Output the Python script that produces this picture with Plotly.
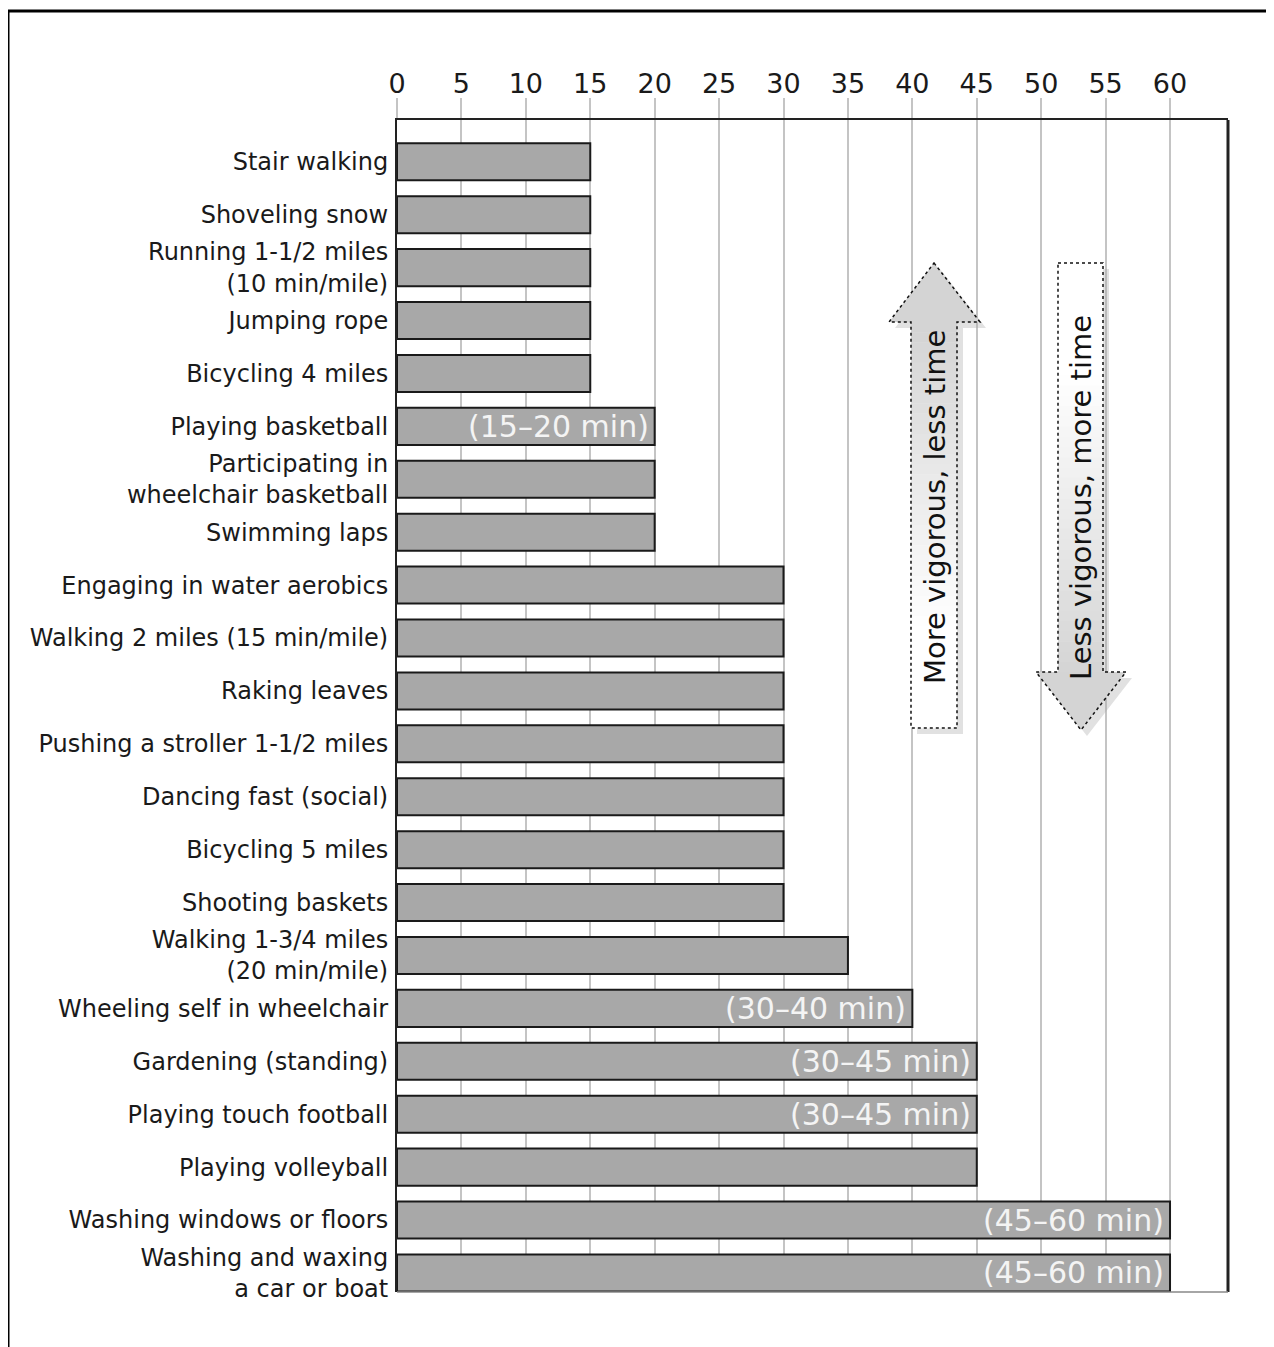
import plotly.graph_objects as go

activities = [
    "Stair walking", "Shoveling snow", "Running 1-1/2 miles<br>(10 min/mile)",
    "Jumping rope", "Bicycling 4 miles", "Playing basketball",
    "Participating in<br>wheelchair basketball", "Swimming laps",
    "Engaging in water aerobics", "Walking 2 miles (15 min/mile)", "Raking leaves",
    "Pushing a stroller 1-1/2 miles", "Dancing fast (social)", "Bicycling 5 miles",
    "Shooting baskets", "Walking 1-3/4 miles<br>(20 min/mile)",
    "Wheeling self in wheelchair", "Gardening (standing)", "Playing touch football",
    "Playing volleyball", "Washing windows or floors",
    "Washing and waxing<br>a car or boat",
]
minutes = [15, 15, 15, 15, 15, 20, 20, 20, 30, 30, 30, 30, 30, 30, 30, 35, 40, 45, 45, 45, 60, 60]
range_labels = ["", "", "", "", "", "(15–20 min)", "", "", "", "", "", "", "", "", "",
                "", "(30–40 min)", "(30–45 min)", "(30–45 min)", "", "(45–60 min)", "(45–60 min)"]
x_ticks = [0, 5, 10, 15, 20, 25, 30, 35, 40, 45, 50, 55, 60]
arrow_up_text = "More vigorous, less time"
arrow_down_text = "Less vigorous, more time"

FONT = "DejaVu Sans"
WIDTH, HEIGHT = 1274, 1347
OFF = 8  # page body margin
# plot area in screen pixels
L, R, T, B = 397, 1228, 120, 1292
PW, PH = R - L, B - T


def X(p):
    return (p - L) / PW


def Y(p):
    return (B - p) / PH


def path(points):
    return "M " + " L ".join(f"{X(a):.5f},{Y(b):.5f}" for a, b in points) + " Z"


fig = go.Figure()
fig.add_trace(go.Bar(
    y=activities, x=minutes, orientation="h", width=0.7,
    marker=dict(color="#a8a8a8", line=dict(color="#1a1a1a", width=2)),
    hoverinfo="x+y",
))

annotations = []
for act, m, lab in zip(activities, minutes, range_labels):
    if lab:
        annotations.append(dict(
            x=m, y=act, xref="x", yref="y", text=lab, showarrow=False,
            xanchor="right", xshift=-4, yshift=0,
            font=dict(family=FONT, size=30, color="#f4f4f4"),
        ))

shapes = []
# outer frame (top and left)
shapes.append(dict(type="line", xref="paper", yref="paper", x0=X(8), x1=X(1290), y0=Y(11), y1=Y(11),
                   line=dict(color="#000", width=3)))
shapes.append(dict(type="line", xref="paper", yref="paper", x0=X(8), x1=X(8), y0=Y(11), y1=Y(1360),
                   line=dict(color="#000", width=3)))
# right and bottom plot borders
shapes.append(dict(type="line", xref="paper", yref="paper", x0=1, x1=1, y0=0, y1=1,
                   line=dict(color="#222", width=3), layer="above"))
shapes.append(dict(type="line", xref="paper", yref="paper", x0=0, x1=1, y0=0, y1=0,
                   line=dict(color="#888", width=1.5), layer="above"))


def lerp_color(c1, c2, t):
    return "rgb({},{},{})".format(*[int(round(a + (b - a) * t)) for a, b in zip(c1, c2)])


GRAY = (212, 212, 212)
WHITE = (255, 255, 255)

up_pts = [(934, 263), (980, 322), (957, 322), (957, 728), (911, 728), (911, 322), (889, 322)]
down_pts = [(1058, 263), (1103, 263), (1103, 672), (1126, 672), (1081, 730), (1036, 672), (1058, 672)]

for pts in (up_pts, down_pts):
    shp = [(a + 6, b + 6) for a, b in pts]
    shapes.append(dict(type="path", xref="paper", yref="paper", path=path(shp),
                       fillcolor="rgba(170,170,170,0.35)", line=dict(width=0), layer="above"))

# up arrow
shapes.append(dict(type="path", xref="paper", yref="paper", path=path(up_pts),
                   fillcolor="white", line=dict(width=0), layer="above"))
shapes.append(dict(type="path", xref="paper", yref="paper",
                   path=path([(934, 263), (980, 322), (889, 322)]),
                   fillcolor=lerp_color(GRAY, GRAY, 0), line=dict(width=0), layer="above"))
N = 40
for i in range(N):
    y0 = 322 + (728 - 322) * i / N
    y1 = 322 + (728 - 322) * (i + 1) / N
    t = min(1.0, i / (N * 0.75))
    shapes.append(dict(type="rect", xref="paper", yref="paper", x0=X(911), x1=X(957), y0=Y(y0), y1=Y(y1 + 0.5),
                       fillcolor=lerp_color(GRAY, WHITE, t), line=dict(width=0), layer="above"))
shapes.append(dict(type="path", xref="paper", yref="paper", path=path(up_pts),
                   fillcolor="rgba(0,0,0,0)", line=dict(color="#111", width=1.5, dash="dot"), layer="above"))

# down arrow
shapes.append(dict(type="path", xref="paper", yref="paper", path=path(down_pts),
                   fillcolor="white", line=dict(width=0), layer="above"))
for i in range(N):
    y0 = 263 + (672 - 263) * i / N
    y1 = 263 + (672 - 263) * (i + 1) / N
    t = min(1.0, max(0.0, (i - N * 0.25) / (N * 0.75)))
    shapes.append(dict(type="rect", xref="paper", yref="paper", x0=X(1058), x1=X(1103), y0=Y(y0), y1=Y(y1 + 0.5),
                       fillcolor=lerp_color(WHITE, GRAY, t), line=dict(width=0), layer="above"))
shapes.append(dict(type="path", xref="paper", yref="paper",
                   path=path([(1126, 672), (1081, 730), (1036, 672)]),
                   fillcolor=lerp_color(GRAY, GRAY, 0), line=dict(width=0), layer="above"))
shapes.append(dict(type="path", xref="paper", yref="paper", path=path(down_pts),
                   fillcolor="rgba(0,0,0,0)", line=dict(color="#111", width=1.5, dash="dot"), layer="above"))

annotations.append(dict(x=X(935), y=Y(507), xref="paper", yref="paper", text=arrow_up_text,
                        textangle=-90, showarrow=False, xanchor="center", yanchor="middle",
                        font=dict(family=FONT, size=29, color="#111")))
annotations.append(dict(x=X(1081), y=Y(498), xref="paper", yref="paper", text=arrow_down_text,
                        textangle=-90, showarrow=False, xanchor="center", yanchor="middle",
                        font=dict(family=FONT, size=29, color="#111")))

fig.update_layout(
    width=WIDTH, height=HEIGHT,
    margin=dict(l=L - OFF, r=WIDTH - R + OFF, t=T - OFF, b=HEIGHT - B + OFF, pad=0),
    paper_bgcolor="white", plot_bgcolor="white",
    showlegend=False,
    font=dict(family=FONT, color="#222"),
    xaxis=dict(
        side="top", range=[0, 64.5], tickvals=x_ticks, ticktext=[str(v) for v in x_ticks],
        showgrid=True, gridcolor="#c4c4c4", gridwidth=1.5,
        showline=True, linecolor="#222", linewidth=2,
        ticks="outside", ticklen=20, tickcolor="#c4c4c4", tickwidth=1.5,
        ticklabelstandoff=-6,
        tickfont=dict(family=FONT, size=27, color="#1a1a1a"),
        zeroline=False, fixedrange=True,
    ),
    yaxis=dict(
        type="category", categoryorder="array", categoryarray=activities,
        range=[len(activities) - 1 + 0.36, -0.79],
        showgrid=False, showline=True, linecolor="#222", linewidth=2,
        ticks="", ticklabelstandoff=2,
        tickfont=dict(family=FONT, size=24, color="#1a1a1a"),
        zeroline=False, fixedrange=True,
    ),
    shapes=shapes,
    annotations=annotations,
)

fig.write_html("out.html")
